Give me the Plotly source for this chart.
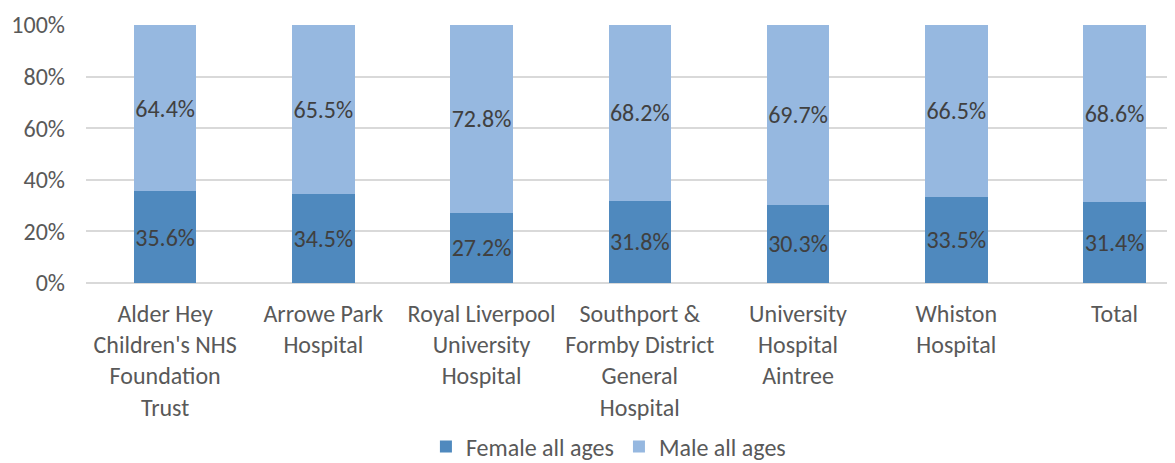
import plotly.graph_objects as go

categories = [
    "Alder Hey<br>Children's NHS<br>Foundation<br>Trust",
    "Arrowe Park<br>Hospital",
    "Royal Liverpool<br>University<br>Hospital",
    "Southport &<br>Formby District<br>General<br>Hospital",
    "University<br>Hospital<br>Aintree",
    "Whiston<br>Hospital",
    "Total",
]
female = [35.6, 34.5, 27.2, 31.8, 30.3, 33.5, 31.4]
male = [64.4, 65.5, 72.8, 68.2, 69.7, 66.5, 68.6]
ytick_vals = [0, 20, 40, 60, 80, 100]
ytick_text = ["0%", "20%", "40%", "60%", "80%", "100%"]

FONT = "Carlito, Calibri, Lato, sans-serif"
x = list(range(len(categories)))

fig = go.Figure()
for name, vals, col in [("Female all ages", female, "#4F89BE"),
                        ("Male all ages", male, "#96B8E0")]:
    fig.add_trace(go.Bar(
        x=x, y=vals, name=name, marker_color=col,
        width=0.395, text=[f"{v:.1f}%" for v in vals], textposition="inside",
        insidetextanchor="middle", constraintext="none", textangle=0,
        textfont=dict(size=24, color="#404040", family=FONT),
        marker_line_width=0,
    ))

fig.update_layout(
    width=1175, height=463,
    barmode="stack",
    plot_bgcolor="white", paper_bgcolor="white",
    margin=dict(l=78, r=0, t=17, b=188, autoexpand=False),
    font=dict(family=FONT, size=24, color="#595959"),
    uniformtext=dict(mode="show", minsize=10),
    xaxis=dict(
        tickmode="array", tickvals=x, ticktext=categories,
        range=[-0.5, 6.433], showgrid=False, zeroline=False,
        showline=False, ticks="", tickfont=dict(size=24, color="#595959"),
        automargin=False, ticklabelstandoff=14,
    ),
    yaxis=dict(
        range=[0, 100], tickvals=ytick_vals, ticktext=ytick_text,
        showgrid=True, gridcolor="#D9D9D9", gridwidth=1.5,
        zeroline=True, zerolinecolor="#D9D9D9", zerolinewidth=1.5,
        ticks="", tickfont=dict(size=24, color="#595959"),
        automargin=False, ticklabelstandoff=20,
    ),
    legend=dict(
        orientation="h", xref="container", x=0.511, xanchor="center",
        yref="container", y=0.052, yanchor="middle",
        font=dict(size=24, color="#595959"), traceorder="normal",
        itemwidth=30,
    ),
    bargap=0.6,
)

fig.write_html("out.html")
